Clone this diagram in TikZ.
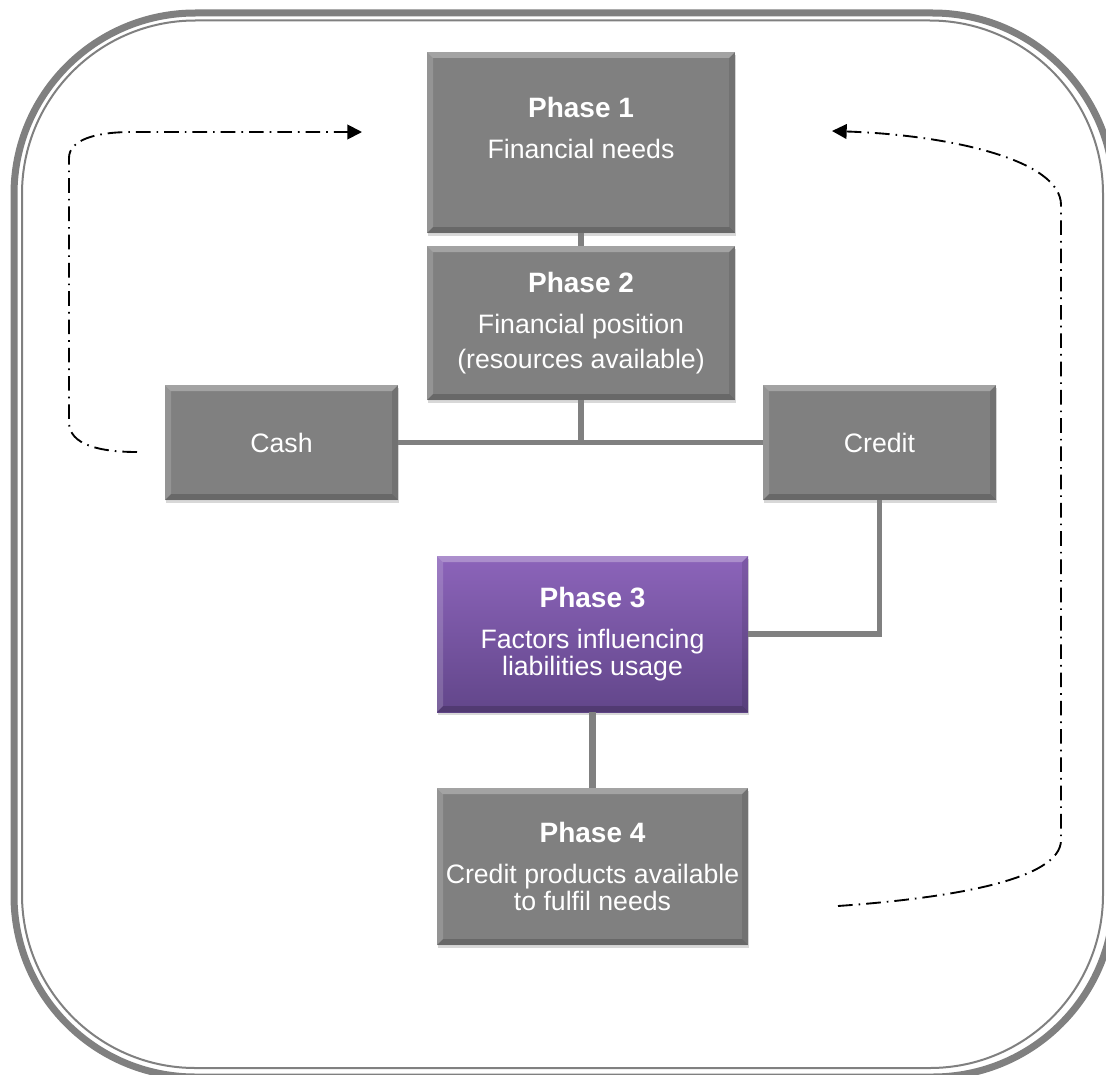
\documentclass[tikz,border=0pt]{standalone}
\usepackage{fontspec}
\setmainfont{Liberation Sans}
\usetikzlibrary{arrows.meta,shadows}
\definecolor{boxgray}{RGB}{128,128,128}
\definecolor{linegray}{RGB}{128,128,128}
\definecolor{ptop}{RGB}{140,100,186}
\definecolor{pbot}{RGB}{98,70,138}
\newcommand{\phhead}[1]{{\fontsize{21pt}{21pt}\selectfont\bfseries #1}}
\tikzset{
  bevel/.style={path picture={
    \path (path picture bounding box.north west) coordinate (bvA)
          (path picture bounding box.north east) coordinate (bvB)
          (path picture bounding box.south east) coordinate (bvC)
          (path picture bounding box.south west) coordinate (bvD);
    \fill[white,opacity=.28] (bvA) -- (bvB) -- ([shift={(-4.5pt,-4.5pt)}]bvB) -- ([shift={(4.5pt,-4.5pt)}]bvA) -- cycle;
    \fill[white,opacity=.16] (bvA) -- ([shift={(4.5pt,-4.5pt)}]bvA) -- ([shift={(4.5pt,4.5pt)}]bvD) -- (bvD) -- cycle;
    \fill[black,opacity=.18] (bvD) -- (bvC) -- ([shift={(-4.5pt,4.5pt)}]bvC) -- ([shift={(4.5pt,4.5pt)}]bvD) -- cycle;
    \fill[black,opacity=.10] (bvC) -- (bvB) -- ([shift={(-4.5pt,-4.5pt)}]bvB) -- ([shift={(-4.5pt,4.5pt)}]bvC) -- cycle;
  }},
  phasebox/.style={rectangle, draw=none, fill=boxgray, inner sep=0pt, bevel,
    drop shadow={shadow xshift=1pt, shadow yshift=-2pt, opacity=.3},
    text=white, align=center, font=\fontsize{20pt}{20.6pt}\selectfont},
  purplebox/.style={phasebox, top color=ptop, bottom color=pbot},
  boxtext/.style={text=white, align=center, inner sep=0pt, font=\fontsize{20pt}{20.6pt}\selectfont},
  conn/.style={draw=linegray, line width=4pt},
  flow/.style={draw=black, line width=1.4pt, dash pattern=on 11pt off 4.5pt on 1.2pt off 4.5pt,
    -{Triangle[length=11pt,width=11pt]}},
  frameouter/.style={draw=linegray, line width=5.25pt, rounded corners=136pt},
  frameinner/.style={draw=linegray, line width=1.5pt, rounded corners=130pt},
}
\begin{document}
\begin{tikzpicture}[x=0.75pt,y=-0.75pt]
\useasboundingbox (0,0) rectangle (1106,1074);
\fill[white] (0,0) rectangle (1106,1074);

% frame
\draw[frameouter] (14,13) rectangle (1114,1077);
\draw[frameinner] (22,20.5) rectangle (1103,1068);

% boxes
\node[phasebox, minimum width=231pt, minimum height=135.75pt] (p1) at (581,142.5) {};
\node[boxtext] (p1t) at (581,128) {\phhead{Phase 1}\\[10pt]Financial needs};
\node[phasebox, minimum width=231pt, minimum height=115.5pt] (p2) at (581,323) {\phhead{Phase 2}\\[10pt]Financial position\\[6pt](resources available)};
\node[phasebox, minimum width=174.75pt, minimum height=86.25pt] (cash) at (281.5,442.5) {Cash};
\node[phasebox, minimum width=174.75pt, minimum height=86.25pt] (credit) at (879.5,442.5) {Credit};
\node[purplebox, minimum width=233.25pt, minimum height=117pt] (p3) at (592.5,634) {\phhead{Phase 3}\\[10pt]Factors influencing\\liabilities usage};
\node[phasebox, minimum width=233.25pt, minimum height=117.75pt] (p4) at (592.5,866.5) {\phhead{Phase 4}\\[10pt]Credit products available\\to fulfil needs};

% connectors
\draw[conn] (p1.south) -- (p2.north);
\draw[conn] (p2.south) -- (p2.south |- cash.east);
\draw[conn] (cash.east) -- (credit.west);
\draw[conn] (credit.south) -- (credit.south |- p3.east) -- (p3.east);
\draw[conn, line width=5.5pt] (p3.south) -- (p4.north);

% feedback arrows
\coordinate (ls) at (137,452);
\coordinate (le) at (362,132);
\draw[flow] (ls) .. controls (100,452) and (69,445) .. (69,422) -- (69,158)
  .. controls (69,140) and (95,132) .. (132,132) -- (le);
\coordinate (rs) at (838,906);
\coordinate (re) at (832,131);
\draw[flow] (rs) .. controls (950,898) and (1061,880) .. (1061,840) -- (1061,205)
  .. controls (1061,160) and (950,135) .. (re);
\end{tikzpicture}
\end{document}
